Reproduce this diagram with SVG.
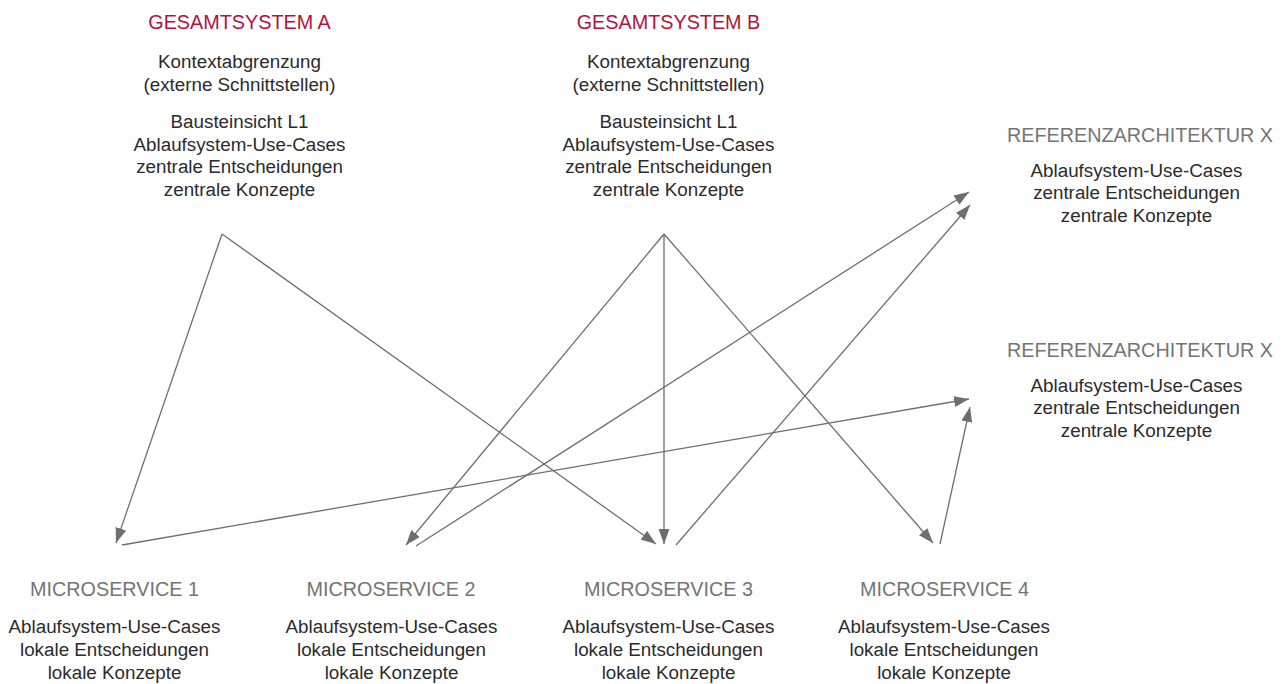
<svg xmlns="http://www.w3.org/2000/svg" width="1286" height="684" viewBox="0 0 1286 684">
<style>
text{font-family:"Liberation Sans",Arial,sans-serif;text-anchor:middle}
.h{font-size:19.8px}
.hr{fill:#b0123e}
.hg{fill:#747474}
.t{font-size:18.8px;fill:#2b2b2b}
.c line{stroke:#6e6e72;stroke-width:1.3;fill:none}
.c .a{marker-end:url(#ar)}
</style>
<defs>
<marker id="ar" viewBox="0 0 15 11" refX="15" refY="5.5" markerWidth="15" markerHeight="11" markerUnits="userSpaceOnUse" orient="auto">
<path d="M0,0 L15,5.5 L0,11 z" fill="#6e6e72"/>
</marker>
</defs>
<rect width="1286" height="684" fill="#fff"/>
<g id="gesamtsystem-a">
<text class="h hr" x="239.5" y="28.5">GESAMTSYSTEM A</text>
<text class="t" x="239.5" y="68.3">Kontextabgrenzung</text>
<text class="t" x="239.5" y="90.5">(externe Schnittstellen)</text>
<text class="t" x="239.5" y="128.3">Bausteinsicht L1</text>
<text class="t" x="239.5" y="150.8">Ablaufsystem-Use-Cases</text>
<text class="t" x="239.5" y="173.3">zentrale Entscheidungen</text>
<text class="t" x="239.5" y="196.3">zentrale Konzepte</text>
</g>
<g id="gesamtsystem-b">
<text class="h hr" x="668.5" y="28.5">GESAMTSYSTEM B</text>
<text class="t" x="668.5" y="68.3">Kontextabgrenzung</text>
<text class="t" x="668.5" y="90.5">(externe Schnittstellen)</text>
<text class="t" x="668.5" y="128.3">Bausteinsicht L1</text>
<text class="t" x="668.5" y="150.8">Ablaufsystem-Use-Cases</text>
<text class="t" x="668.5" y="173.3">zentrale Entscheidungen</text>
<text class="t" x="668.5" y="196.3">zentrale Konzepte</text>
</g>
<g id="referenz-1">
<text class="h hg" x="1140" y="141.5">REFERENZARCHITEKTUR X</text>
<text class="t" x="1136.5" y="176.5">Ablaufsystem-Use-Cases</text>
<text class="t" x="1136.5" y="199">zentrale Entscheidungen</text>
<text class="t" x="1136.5" y="221.5">zentrale Konzepte</text>
</g>
<g id="referenz-2">
<text class="h hg" x="1140" y="356.5">REFERENZARCHITEKTUR X</text>
<text class="t" x="1136.5" y="391.5">Ablaufsystem-Use-Cases</text>
<text class="t" x="1136.5" y="414">zentrale Entscheidungen</text>
<text class="t" x="1136.5" y="436.5">zentrale Konzepte</text>
</g>
<g id="microservice-1">
<text class="h hg" x="114.5" y="595.5">MICROSERVICE 1</text>
<text class="t" x="114.5" y="633">Ablaufsystem-Use-Cases</text>
<text class="t" x="114.5" y="656">lokale Entscheidungen</text>
<text class="t" x="114.5" y="678.5">lokale Konzepte</text>
</g>
<g id="microservice-2">
<text class="h hg" x="391" y="595.5">MICROSERVICE 2</text>
<text class="t" x="391.5" y="633">Ablaufsystem-Use-Cases</text>
<text class="t" x="391.5" y="656">lokale Entscheidungen</text>
<text class="t" x="391.5" y="678.5">lokale Konzepte</text>
</g>
<g id="microservice-3">
<text class="h hg" x="668.5" y="595.5">MICROSERVICE 3</text>
<text class="t" x="668.5" y="633">Ablaufsystem-Use-Cases</text>
<text class="t" x="668.5" y="656">lokale Entscheidungen</text>
<text class="t" x="668.5" y="678.5">lokale Konzepte</text>
</g>
<g id="microservice-4">
<text class="h hg" x="944.5" y="595.5">MICROSERVICE 4</text>
<text class="t" x="944" y="633">Ablaufsystem-Use-Cases</text>
<text class="t" x="944" y="656">lokale Entscheidungen</text>
<text class="t" x="944" y="678.5">lokale Konzepte</text>
</g>
<g id="connectors" class="c">
<line class="a" x1="222" y1="234" x2="116" y2="543"/>
<line class="a" x1="222" y1="234" x2="656" y2="544"/>
<line class="a" x1="664" y1="234" x2="406" y2="545"/>
<line class="a" x1="664" y1="234" x2="664" y2="544"/>
<line class="a" x1="664" y1="234" x2="933" y2="543"/>
<line class="a" x1="122" y1="545" x2="969" y2="399"/>
<line class="a" x1="416" y1="546" x2="969" y2="192"/>
<line class="a" x1="676" y1="545" x2="970" y2="205"/>
<line class="a" x1="940" y1="544" x2="970" y2="407"/>
</g>
</svg>
